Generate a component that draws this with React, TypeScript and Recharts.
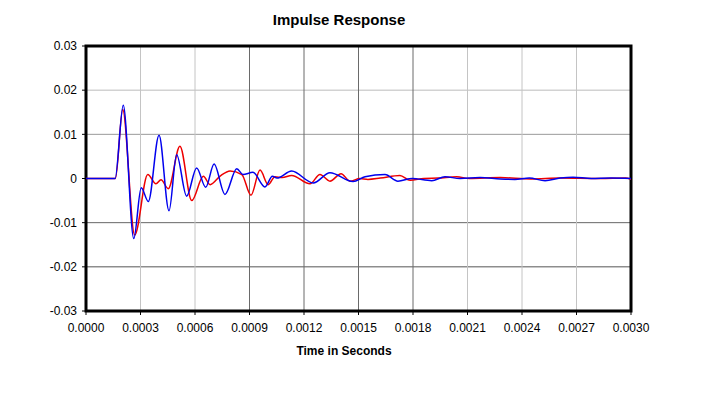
import { LineChart, Line, XAxis, YAxis, CartesianGrid, ReferenceArea } from 'recharts';

const FONT = '"Liberation Sans", Arial, Helvetica, sans-serif';

const X_TICKS = [0, 0.0003, 0.0006, 0.0009, 0.0012, 0.0015, 0.0018, 0.0021, 0.0024, 0.0027, 0.003];
const Y_TICKS = [-0.03, -0.02, -0.01, 0, 0.01, 0.02, 0.03];

// red trace (seconds / amplitude)
const RED_TIME = [
  0, 0.000162, 0.000202, 0.000268, 0.00034, 0.000385, 0.000413, 0.000453, 0.000517, 0.000582,
  0.000646, 0.000683, 0.00074, 0.000793, 0.000858, 0.000908, 0.000958, 0.001003, 0.00104, 0.00108,
  0.001132, 0.001233, 0.001288, 0.001343, 0.001404, 0.001453, 0.001508, 0.001552, 0.00162, 0.001728,
  0.001784, 0.00186, 0.00194, 0.002041, 0.00211, 0.00228, 0.00245, 0.00261, 0.00283, 0.00297, 0.003
];
const RED_VALUE = [
  0, 0, 0.0156, -0.0128, 0.0009, -0.0012, -0.0003, -0.0023, 0.0073, -0.005,
  0.0005, -0.0014, 0.0006, 0.0017, 0.0009, -0.0038, 0.0019, -0.0014, 0.0004, 0.0002,
  0.0007, -0.0012, 0.0009, -0.0006, 0.0011, -0.0006, 0, -0.0002, 0.0001, 0.0007,
  -0.0004, 0, 0.0001, 0.0004, 0, 0.0002, -0.0001, 0.0001, 0, 0.0001, -0.0002
];

// blue trace (seconds / amplitude)
const BLUE_TIME = [
  0, 0.00016, 0.000205, 0.000263, 0.000304, 0.000343, 0.000402, 0.000457, 0.000499, 0.000554,
  0.000609, 0.000659, 0.000705, 0.000765, 0.00083, 0.000864, 0.000919, 0.000985, 0.001026, 0.001051,
  0.001132, 0.001251, 0.001343, 0.00147, 0.001536, 0.001646, 0.001717, 0.001795, 0.001903, 0.001976,
  0.002059, 0.002169, 0.00228, 0.002361, 0.00244, 0.002527, 0.00261, 0.002681, 0.00278, 0.00289, 0.003
];
const BLUE_VALUE = [
  0, 0, 0.0166, -0.0136, -0.0021, -0.0052, 0.0098, -0.0073, 0.0054, -0.004,
  0.0024, -0.002, 0.0033, -0.0036, 0.0022, 0.0009, 0.0014, -0.0019, 0.0005, 0.0001,
  0.0017, -0.001, 0.0013, -0.0007, 0.0004, 0.0009, -0.0006, 0, -0.0005, 0.0004,
  0, 0.0002, -0.0001, -0.0002, 0.0001, -0.0005, 0.0001, 0.0003, 0, 0.0001, 0
];

const toSeries = (time: number[], value: number[]) =>
  time.map((t, i) => ({ time: t, value: value[i] }));

const redData = toSeries(RED_TIME, RED_VALUE);
const blueData = toSeries(BLUE_TIME, BLUE_VALUE);

// grid shade per tick index (some lines look darker in the original)
const V_GRID = ['none', '#c4c4c4', '#c4c4c4', '#6a6a6a', '#6a6a6a', '#6a6a6a', '#6a6a6a', '#c4c4c4', '#c4c4c4', '#c4c4c4', 'none'];
const H_GRID = ['none', '#555', '#666', 'none', '#999', '#bbb', 'none'];

const tickStyle = { fill: '#000', fontSize: 12, fontFamily: FONT };

export default function App() {
  return (
    <div style={{ position: 'absolute', left: 0, top: 0, width: 716, height: 394, background: '#fff', fontFamily: FONT }}>
      <div style={{ position: 'absolute', left: 239, width: 200, top: 11, textAlign: 'center', fontSize: 15, fontWeight: 'bold', color: '#000' }}>
        Impulse Response
      </div>
      <LineChart width={716} height={394} margin={{ top: 46, right: 85, bottom: 53, left: 0 }}>
        <CartesianGrid
          vertical={(p: any) => (
            <line key={p.key} x1={p.x1} x2={p.x2} y1={p.y1} y2={p.y2} stroke={V_GRID[p.index] ?? 'none'} strokeWidth={1} />
          )}
          horizontal={(p: any) => (
            <line key={p.key} x1={p.x1} x2={p.x2} y1={p.y1} y2={p.y2} stroke={H_GRID[p.index] ?? 'none'} strokeWidth={1} />
          )}
        />
        <XAxis
          type="number"
          dataKey="time"
          domain={[0, 0.003]}
          ticks={X_TICKS}
          allowDataOverflow
          tickFormatter={(v: number) => v.toFixed(4)}
          tick={tickStyle}
          tickLine={{ stroke: '#000' }}
          tickSize={4}
          tickMargin={8}
          axisLine={false}
          height={30}
        />
        <YAxis
          type="number"
          domain={[-0.03, 0.03]}
          ticks={Y_TICKS}
          allowDataOverflow
          tickFormatter={(v: number) => String(v)}
          tick={tickStyle}
          tickLine={{ stroke: '#000' }}
          tickSize={4}
          tickMargin={5}
          axisLine={false}
          width={86}
        />
        <Line data={redData} dataKey="value" type="monotone" stroke="#ee0000" strokeWidth={1.5} dot={false} isAnimationActive={false} />
        <Line data={blueData} dataKey="value" type="monotone" stroke="#0000ee" strokeWidth={1.5} dot={false} isAnimationActive={false} />
        <ReferenceArea x1={0} x2={0.003} y1={-0.03} y2={0.03} fill="none" fillOpacity={0} stroke="#000" strokeWidth={3} />
      </LineChart>
      <div style={{ position: 'absolute', left: 244, width: 200, top: 344, textAlign: 'center', fontSize: 12, fontWeight: 'bold', color: '#000' }}>
        Time in Seconds
      </div>
    </div>
  );
}
